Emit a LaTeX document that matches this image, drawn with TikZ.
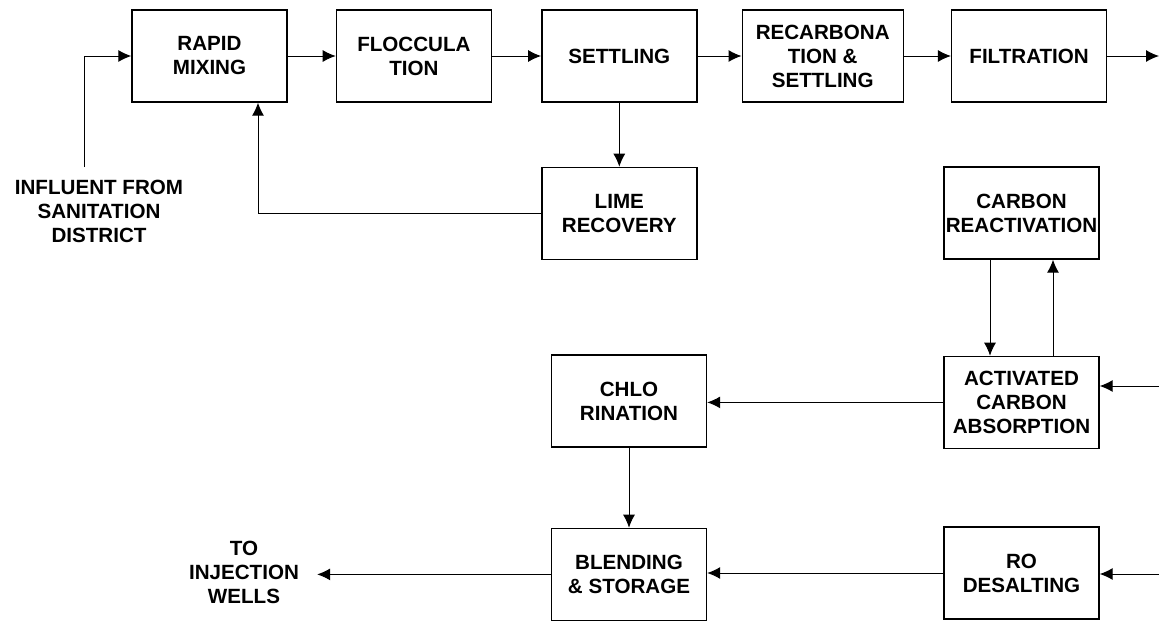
\documentclass[tikz,border=0pt]{standalone}
\usepackage{fontspec}
\setmainfont{Liberation Sans}
\usepackage{tikz}
\usetikzlibrary{arrows.meta, positioning}

\newcommand{\unitfont}{\bfseries\fontsize{20.6}{24}\selectfont}

\begin{document}
\begin{tikzpicture}[x=1pt, y=-1pt,
    unitbox/.style={rectangle, draw=black, line width=1.4pt,
                    minimum width=155pt, minimum height=92pt,
                    inner sep=0pt, align=center, font=\unitfont},
    flow/.style={line width=1pt, ->, >={Latex[length=13pt, width=12pt]}},
    endtext/.style={align=center, inner sep=0pt, font=\unitfont}]

    \useasboundingbox (0,0) rectangle (1159,624);

    % top row
    \node[unitbox] (rapid) at (209.5,56) {RAPID\\MIXING};
    \node[unitbox, right=48pt of rapid] (flocc) {FLOCCULA\\TION};
    \node[unitbox, right=49pt of flocc] (settling) {SETTLING};
    \node[unitbox, right=44pt of settling, minimum width=161pt] (recarb) {RECARBONA\\TION \&\\SETTLING};
    \node[unitbox, right=47pt of recarb] (filtration) {FILTRATION};

    \node[unitbox, below=64pt of settling] (lime) {LIME\\RECOVERY};

    % carbon loop
    \node[unitbox] (creact) at (1021.5,213) {CARBON\\REACTIVATION};
    \node[unitbox, below=96pt of creact] (acarbon) {ACTIVATED\\CARBON\\ABSORPTION};

    % lower part
    \node[unitbox] (chlor) at (629,401) {CHLO\\RINATION};
    \node[unitbox, below=80pt of chlor] (blend) {BLENDING\\\& STORAGE};
    \node[unitbox] (ro) at (1021.5,573) {RO\\DESALTING};

    \node[endtext] (source) at (99,211) {INFLUENT FROM\\SANITATION\\DISTRICT};
    \node[endtext] (wells) at (244,572) {TO\\INJECTION\\WELLS};

    \coordinate (inlet) at (84,167);
    \coordinate (outlet) at (1159,56);
    \coordinate (feedA) at (1159,386);
    \coordinate (feedB) at (1159,574);

    \draw[flow] (inlet) |- (rapid.west);
    \draw[flow] (rapid) -- (flocc);
    \draw[flow] (flocc) -- (settling);
    \draw[flow] (settling) -- (recarb);
    \draw[flow] (recarb) -- (filtration);
    \draw[flow] (filtration) -- (outlet);
    \draw[flow] (settling) -- (lime);
    \draw[flow] (lime.west) -| ([xshift=48.5pt]rapid.south);

    \draw[flow] ([xshift=-31.5pt]creact.south) -- ([xshift=-31.5pt]acarbon.north);
    \draw[flow] ([xshift=31.5pt]acarbon.north) -- ([xshift=31.5pt]creact.south);
    \draw[flow] (feedA) -- (feedA -| acarbon.east);
    \draw[flow] (acarbon.west) -- (acarbon.west -| chlor.east);

    \draw[flow] (chlor) -- (blend);
    \draw[flow] (feedB) -- (feedB -| ro.east);
    \draw[flow] (ro.west) -- (ro.west -| blend.east);
    \draw[flow] (blend.west) -- ([xshift=18pt]wells.east |- blend.west);

\end{tikzpicture}
\end{document}
